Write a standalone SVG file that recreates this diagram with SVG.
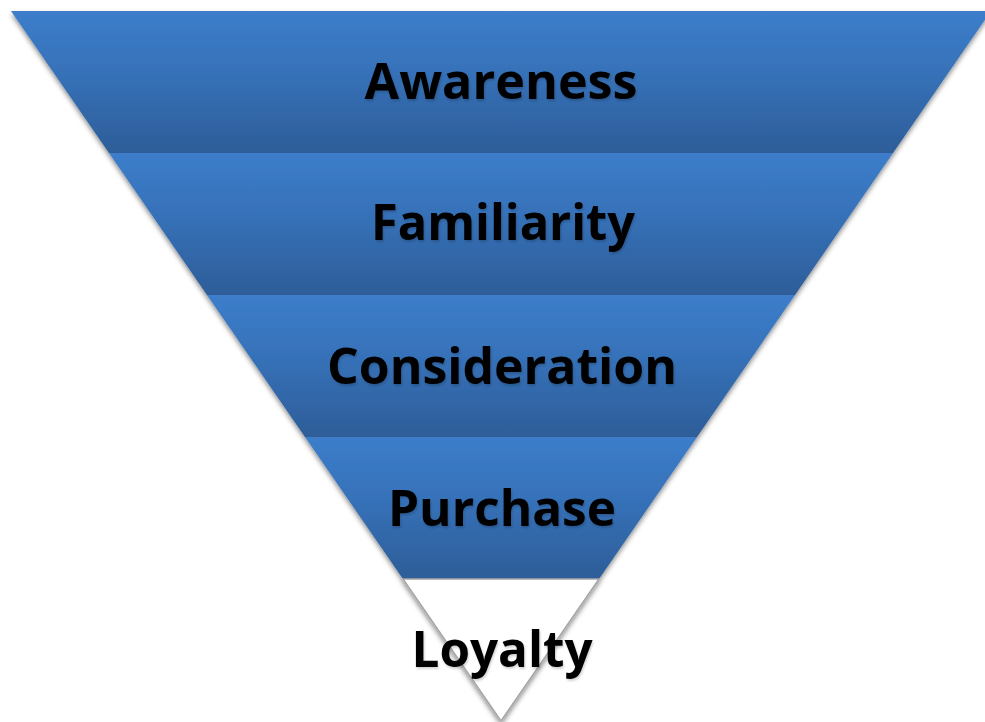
<svg xmlns="http://www.w3.org/2000/svg" width="985" height="722" viewBox="0 0 985 722">
<defs>
<linearGradient id="band" x1="0" y1="0" x2="0" y2="1">
<stop offset="0" stop-color="#3c7dca"/>
<stop offset="0.45" stop-color="#3671b8"/>
<stop offset="1" stop-color="#2d5d98"/>
</linearGradient>
<filter id="sh" x="-10%" y="-10%" width="120%" height="130%">
<feDropShadow dx="0" dy="3" stdDeviation="2.5" flood-color="#000" flood-opacity="0.45"/>
</filter>
<filter id="tsh" x="-10%" y="-20%" width="120%" height="150%">
<feDropShadow dx="1" dy="2" stdDeviation="1.2" flood-color="#000" flood-opacity="0.18"/>
</filter>
</defs>
<style>
.lbl{font-family:"Open Sans","Liberation Sans",sans-serif;font-weight:bold;font-size:51px;fill:#000;text-anchor:middle;filter:url(#tsh)}
.b{fill:url(#band)}
</style>
<rect width="985" height="722" fill="#fff"/>
<g filter="url(#sh)">
<g id="awareness">
<polygon class="b" points="11,11 991,11 893,153 109,153"/>
</g>
<g id="familiarity">
<polygon class="b" points="109,153 893,153 795,295 207,295"/>
</g>
<g id="consideration">
<polygon class="b" points="207,295 795,295 697,437 305,437"/>
</g>
<g id="purchase">
<polygon class="b" points="305,437 697,437 599,579 403,579"/>
</g>
<g id="loyalty">
<polygon points="403,579 599,579 501,721" fill="#fff" stroke="#a6a6a6" stroke-width="1.5"/>
</g>
</g>
<g id="labels">
<text class="lbl" x="501" y="99" textLength="273" lengthAdjust="spacingAndGlyphs">Awareness</text>
<text class="lbl" x="503" y="240" textLength="264" lengthAdjust="spacingAndGlyphs">Familiarity</text>
<text class="lbl" x="502" y="384" textLength="350" lengthAdjust="spacingAndGlyphs">Consideration</text>
<text class="lbl" x="502" y="526" textLength="228" lengthAdjust="spacingAndGlyphs">Purchase</text>
<text class="lbl" x="502" y="667" textLength="181" lengthAdjust="spacingAndGlyphs">Loyalty</text>
</g>
</svg>
